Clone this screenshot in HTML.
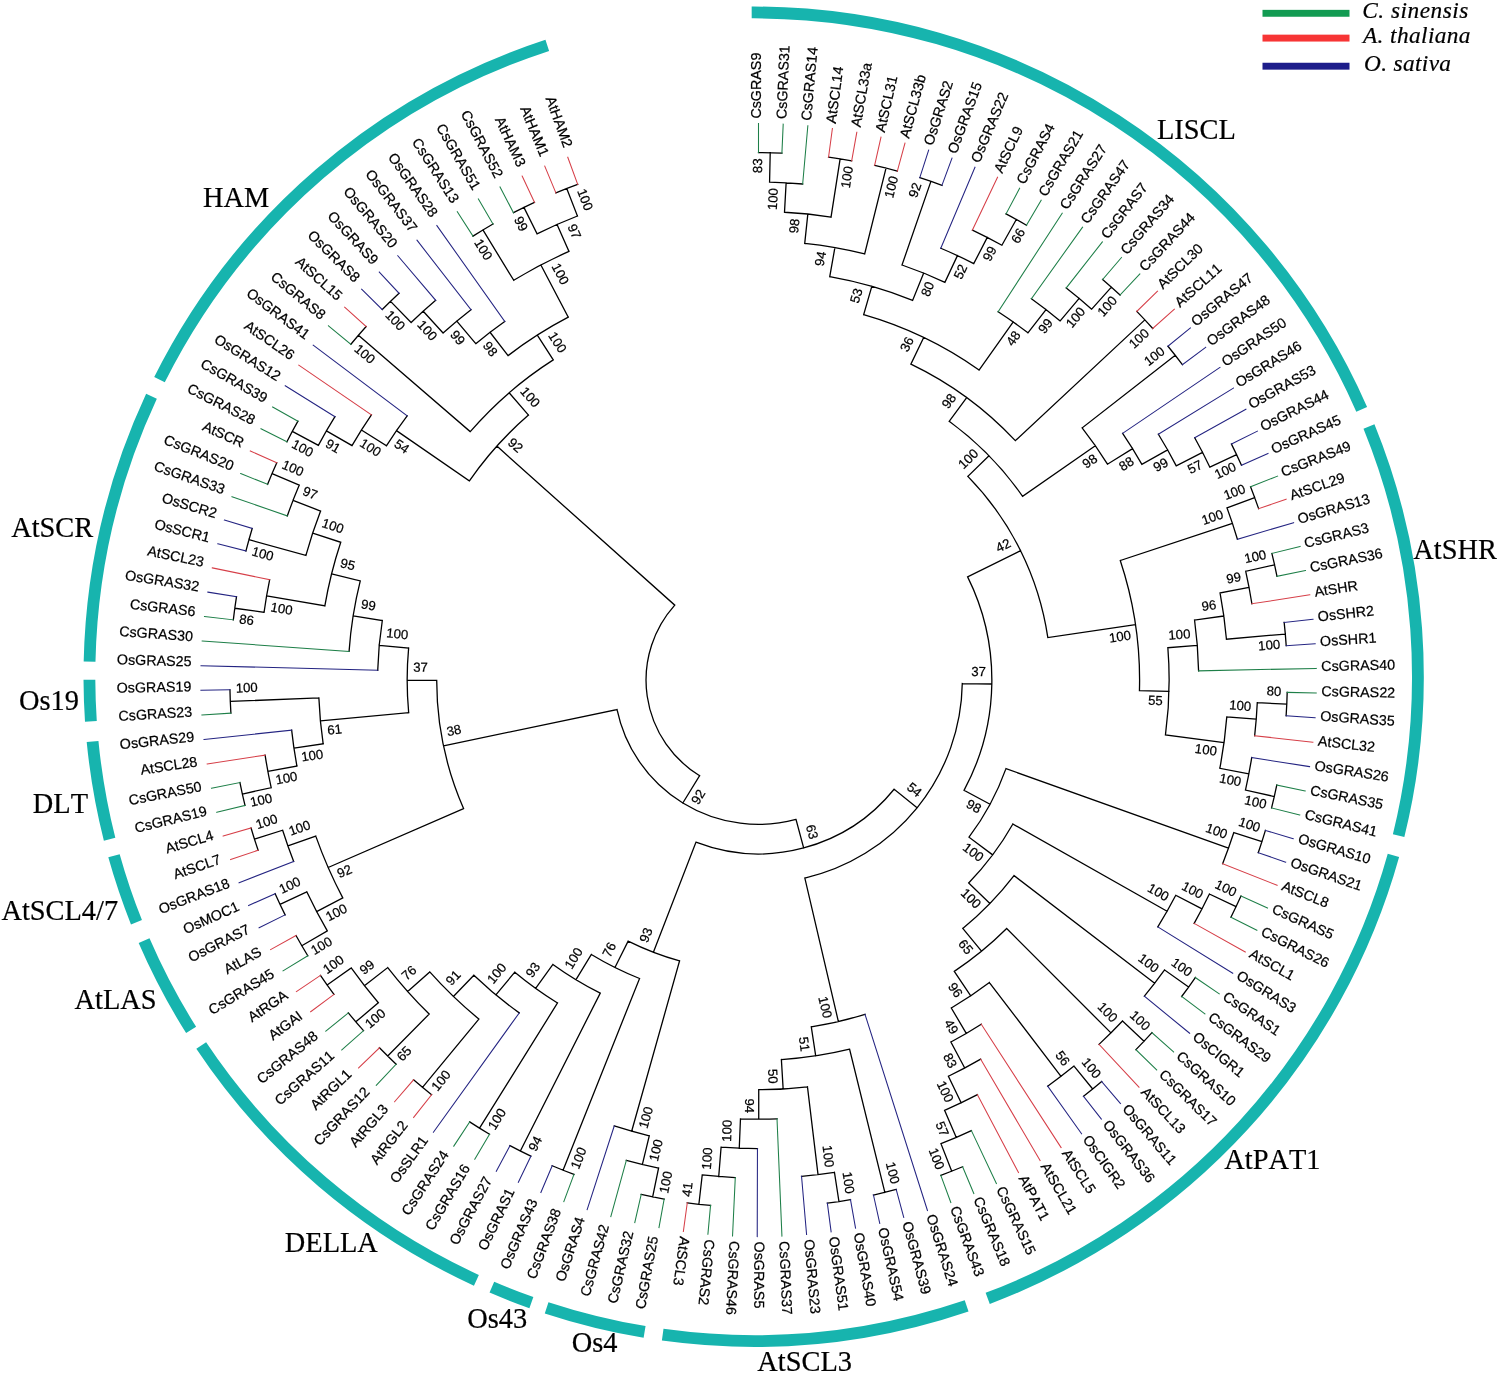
<!DOCTYPE html>
<html lang="en"><head><meta charset="utf-8"><title>GRAS phylogenetic tree</title>
<style>html,body{margin:0;padding:0;background:#fff}svg{display:block}text{font-kerning:none;stroke:#000;stroke-width:.22px}.lf{font-family:"Liberation Sans",Arial,sans-serif;font-size:14.3px;fill:#000}.bt{font-family:"Liberation Sans",Arial,sans-serif;font-size:13.2px;fill:#000}.cl{font-family:"Liberation Serif","Times New Roman",serif;font-size:28.4px;fill:#000}.lg{font-family:"Liberation Serif","Times New Roman",serif;font-style:italic;font-size:23.3px;fill:#000}</style></head><body>
<svg width="1500" height="1374" viewBox="0 0 1500 1374">
<rect width="1500" height="1374" fill="#fff"/>
<g fill="none" stroke="#17b4ae" stroke-width="11.8">
<path d="M751.68 12.45A664.25 664.25 0 0 1 1361.69 409.28"/>
<path d="M1368.97 426.47A664.25 664.25 0 0 1 1398.62 835.6"/>
<path d="M1393.43 855.33A664.25 664.25 0 0 1 987.69 1298.36"/>
<path d="M966.62 1305.88A664.25 664.25 0 0 1 662.7 1334.69"/>
<path d="M644.59 1331.94A664.25 664.25 0 0 1 546.62 1307.86"/>
<path d="M531.37 1302.66A664.25 664.25 0 0 1 491.87 1287.19"/>
<path d="M476.4 1280.32A664.25 664.25 0 0 1 201.22 1045.54"/>
<path d="M191.13 1029.98A664.25 664.25 0 0 1 144.08 940.61"/>
<path d="M136.47 922.3A664.25 664.25 0 0 1 113.99 855.78"/>
<path d="M109.61 839.31A664.25 664.25 0 0 1 92.57 741.52"/>
<path d="M90.9 721.3A664.25 664.25 0 0 1 89.41 679.71"/>
<path d="M89.57 661.51A664.25 664.25 0 0 1 151.49 396.29"/>
<path d="M159.5 379.69A664.25 664.25 0 0 1 547.28 45.32"/>
</g>
<g fill="none" stroke-width="1.3" stroke-linecap="square">
<path stroke="#000" d="M699.62 775.75A112.56 112.3 0 0 1 674.77 605.16M699.62 775.75L682.82 802.99M796.01 819.47A144.61 144.28 0 0 1 617.05 709.62M796.01 819.47L803.65 847.95M894.1 789.27A174.16 173.76 0 0 1 695.92 842.22M894.1 789.27L917.08 807.79M962.28 683.53A203.71 203.24 0 0 1 804.84 878.03M962.28 683.53L991.82 684.02M967.64 576.85A233.26 232.72 0 0 1 964.03 790.33M967.64 576.85L1020.6 550.69M967.84 476.39A292.35 291.68 0 0 1 1047.83 637.59M967.84 476.39L988.99 455.8M949.19 421.29A321.9 321.16 0 0 1 1022.6 496.34M949.19 421.29L966.69 397.53M910.9 364.09A351.45 350.64 0 0 1 1015.34 440.65M910.9 364.09L923.7 337.53M863.66 314.72A380.99 380.12 0 0 1 979.05 370.08M863.66 314.72L871.81 286.38M829.75 276.7A410.54 409.6 0 0 1 912.61 300.41M829.75 276.7L834.88 247.67M804.73 243.44A440.09 439.08 0 0 1 864.66 253.96M804.73 243.44L807.82 214.12M784.5 212.25A469.64 468.56 0 0 1 831.02 217.14M784.5 212.25L786.13 182.82M769.57 182.18A499.19 498.04 0 0 1 802.67 184M769.57 182.18L770.21 152.71M758.51 152.58A528.73 527.52 0 0 1 781.91 153.09M831.02 217.14L840.13 158.89M828.55 157.22A528.73 527.52 0 0 1 851.68 160.82M864.66 253.96L886.02 168.13M874.63 165.44A528.73 527.52 0 0 1 897.35 171.07M912.61 300.41L923.7 273.09M902.02 264.99A440.09 439.08 0 0 1 944.91 282.31M902.02 264.99L930.91 181.38M919.8 177.7A528.73 527.52 0 0 1 941.94 185.31M944.91 282.31L957.42 255.6M940.79 248.23A469.64 468.56 0 0 1 973.75 263.6M973.75 263.6L987.29 237.4M972.43 230.07A499.19 498.04 0 0 1 1001.9 245.22M1001.9 245.22L1016.3 219.48M1006.02 213.9A528.73 527.52 0 0 1 1026.46 225.28M979.05 370.08L1013.25 321.99M998.13 311.75A440.09 439.08 0 0 1 1027.93 332.84M1027.93 332.84L1046.01 309.53M1031.4 298.7A469.64 468.56 0 0 1 1060.18 320.91M1060.18 320.91L1079.16 298.32M1066.27 287.91A499.19 498.04 0 0 1 1091.69 309.15M1091.69 309.15L1111.4 287.19M1102.6 279.49A528.73 527.52 0 0 1 1120.04 295.08M1015.34 440.65L1144.85 319.87M1136.77 311.42A528.73 527.52 0 0 1 1152.75 328.49M1022.6 496.34L1095.3 445.74M1082.13 427.95A410.54 409.6 0 0 1 1107.48 464.2M1082.13 427.95L1175.28 355.36M1167.97 346.24A528.73 527.52 0 0 1 1182.38 364.65M1107.48 464.2L1132.59 448.66M1122.64 433.37A440.09 439.08 0 0 1 1141.89 464.35M1141.89 464.35L1167.63 449.86M1158.38 434.22A469.64 468.56 0 0 1 1176.26 465.84M1176.26 465.84L1202.54 452.36M1194.71 437.78A499.19 498.04 0 0 1 1209.87 467.2M1209.87 467.2L1236.59 454.59M1231.47 444.09A528.73 527.52 0 0 1 1241.47 465.21M1047.83 637.59L1135.53 624.71M1120.26 560.55A380.99 380.12 0 0 1 1139.45 690.53M1120.26 560.55L1232.46 523.47M1226.98 507.86A499.19 498.04 0 0 1 1237.41 539.25M1226.98 507.86L1254.71 497.66M1250.54 486.75A528.73 527.52 0 0 1 1258.63 508.66M1139.45 690.53L1168.99 691.33M1167.86 647.72A410.54 409.6 0 0 1 1165.46 734.82M1167.86 647.72L1197.31 645.39M1194.55 620.02A440.09 439.08 0 0 1 1198.59 670.88M1194.55 620.02L1223.82 615.99M1220.04 592.96A469.64 468.56 0 0 1 1226.44 639.19M1220.04 592.96L1249.08 587.47M1245.72 571.27A499.19 498.04 0 0 1 1251.89 603.77M1245.72 571.27L1274.56 564.83M1271.87 553.46A528.73 527.52 0 0 1 1276.99 576.26M1226.44 639.19L1285.31 634.04M1284.16 622.41A528.73 527.52 0 0 1 1286.21 645.68M1165.46 734.82L1224.03 742.7M1226.79 716.91A469.64 468.56 0 0 1 1219.84 768.29M1226.79 716.91L1256.24 719.22M1257.27 702.71A499.19 498.04 0 0 1 1254.67 735.69M1257.27 702.71L1286.79 704.05M1287.19 692.38A528.73 527.52 0 0 1 1286.13 715.71M1219.84 768.29L1248.86 773.84M1251.71 757.55A499.19 498.04 0 0 1 1245.47 790.03M1245.47 790.03L1274.29 796.54M1276.75 785.12A528.73 527.52 0 0 1 1271.58 807.9M964.03 790.33L990.06 804.29M1005.98 768.61A262.8 262.2 0 0 1 969 837.21M1005.98 768.61L1228.48 848.23M1233.82 832.57A499.19 498.04 0 0 1 1222.63 863.7M1233.82 832.57L1261.95 841.59M1265.41 830.43A528.73 527.52 0 0 1 1258.24 852.67M969 837.21L992.66 854.87M1012.89 824A292.35 291.68 0 0 1 968.68 882.95M1012.89 824L1167.1 911.27M1175.77 895.31A469.64 468.56 0 0 1 1157.82 926.88M1175.77 895.31L1202.02 908.85M1209.39 894.03A499.19 498.04 0 0 1 1194.16 923.41M1209.39 894.03L1236.07 906.69M1240.98 896.09A528.73 527.52 0 0 1 1230.93 917.18M968.68 882.95L989.91 903.45M1014.01 875.57A321.9 321.16 0 0 1 962.77 928.39M1014.01 875.57L1154.68 983.22M1164.55 969.93A499.19 498.04 0 0 1 1144.37 996.18M1164.55 969.93L1188.58 987.09M1195.29 977.52A528.73 527.52 0 0 1 1181.66 996.51M962.77 928.39L981.52 951.18M1006.66 928.48A351.45 350.64 0 0 1 954.29 971.35M1006.66 928.48L1110.94 1032.9M1122.49 1021.03A499.19 498.04 0 0 1 1099.01 1044.38M1122.49 1021.03L1144.03 1041.21M1151.95 1032.61A528.73 527.52 0 0 1 1135.92 1049.64M954.29 971.35L970.74 995.84M989.4 982.53A380.99 380.12 0 0 1 951.32 1008M989.4 982.53L1061 1076.36M1074.02 1066.12A499.19 498.04 0 0 1 1047.64 1086.16M1074.02 1066.12L1092.69 1088.97M1101.68 1081.49A528.73 527.52 0 0 1 1083.54 1096.25M951.32 1008L966.27 1033.43M981.26 1024.22A410.54 409.6 0 0 1 950.89 1041.99M950.89 1041.99L964.73 1068.04M980.69 1059.17A440.09 439.08 0 0 1 948.41 1076.24M948.41 1076.24L961.15 1102.84M977.42 1094.69A469.64 468.56 0 0 1 944.59 1110.35M944.59 1110.35L956.29 1137.42M971.4 1130.62A499.19 498.04 0 0 1 940.96 1143.72M940.96 1143.72L951.75 1171.16M962.6 1166.77A528.73 527.52 0 0 1 940.81 1175.31M804.84 878.03L838.38 1021.59M864.99 1014.29A351.45 350.64 0 0 1 811.28 1026.78M811.28 1026.78L815.71 1055.92M849.58 1049.22A380.99 380.12 0 0 1 781.38 1059.54M849.58 1049.22L884.85 1192.36M896.19 1189.45A528.73 527.52 0 0 1 873.46 1195.02M781.38 1059.54L783.15 1088.97M807.47 1086.79A410.54 409.6 0 0 1 758.73 1089.7M807.47 1086.79L818.03 1174.6M834.45 1172.36A499.19 498.04 0 0 1 801.54 1176.29M834.45 1172.36L838.94 1201.49M850.49 1199.59A528.73 527.52 0 0 1 827.35 1203.14M758.73 1089.7L758.74 1119.18M777.01 1118.8A440.09 439.08 0 0 1 740.47 1118.81M740.47 1118.81L739.26 1148.26M757.45 1148.66A469.64 468.56 0 0 1 721.09 1147.16M721.09 1147.16L718.73 1176.55M735.28 1177.6A499.19 498.04 0 0 1 702.23 1174.95M702.23 1174.95L698.89 1204.25M710.54 1205.44A528.73 527.52 0 0 1 687.28 1202.8M695.92 842.22L653.39 952.24M679.58 960.92A292.35 291.68 0 0 1 628.13 941.12M679.58 960.92L631.66 1131.22M649.27 1135.79A469.64 468.56 0 0 1 614.24 1125.97M649.27 1135.79L642.39 1164.46M658.58 1168.04A499.19 498.04 0 0 1 626.34 1160.34M658.58 1168.04L652.66 1196.92M664.15 1199.14A528.73 527.52 0 0 1 641.22 1194.46M628.13 941.12L614.95 967.5M639.54 978.48A321.9 321.16 0 0 1 591.36 954.51M639.54 978.48L563.04 1170.21M573.96 1174.41A528.73 527.52 0 0 1 552.21 1165.77M591.36 954.51L576.01 979.7M600.24 993.12A351.45 350.64 0 0 1 552.91 964.41M600.24 993.12L520.35 1151.03M530.86 1156.18A528.73 527.52 0 0 1 509.96 1145.65M552.91 964.41L535.62 988.32M557.51 1002.96A380.99 380.12 0 0 1 514.79 972.2M557.51 1002.96L479.53 1128.16M489.55 1134.21A528.73 527.52 0 0 1 469.66 1121.88M514.79 972.2L495.88 994.85M519.25 1012.88A410.54 409.6 0 0 1 473.88 975.19M473.88 975.19L453.39 996.43M478.85 1019.06A440.09 439.08 0 0 1 429.76 971.9M478.85 1019.06L422.5 1087.33M431.62 1094.65A528.73 527.52 0 0 1 413.55 1079.8M429.76 971.9L407.68 991.5M429.17 1014.05A469.64 468.56 0 0 1 387.74 967.57M429.17 1014.05L387.72 1056.07M396.15 1064.17A528.73 527.52 0 0 1 379.47 1047.79M387.74 967.57L364.4 985.66M378.35 1002.77A499.19 498.04 0 0 1 351.23 967.95M378.35 1002.77L355.84 1021.87M363.52 1030.68A528.73 527.52 0 0 1 348.35 1012.89M351.23 967.95L327.12 984.98M333.99 994.44A528.73 527.52 0 0 1 320.46 975.38M617.05 709.62L443.51 745.81M463.56 808.53A321.9 321.16 0 0 1 436.7 680.34M463.56 808.53L328.15 867.48M342.77 897.87A469.64 468.56 0 0 1 315.76 836.11M342.77 897.87L316.6 911.57M327.31 930.87A499.19 498.04 0 0 1 306.77 891.82M327.31 930.87L301.78 945.71M307.79 955.74A528.73 527.52 0 0 1 296 935.55M306.77 891.82L280.02 904.35M285.12 914.87A528.73 527.52 0 0 1 275.16 893.73M315.76 836.11L287.9 845.93M293.68 861.43A499.19 498.04 0 0 1 282.64 830.24M282.64 830.24L254.46 839.13M258.12 850.23A528.73 527.52 0 0 1 251.06 827.95M436.7 680.34L407.15 680.36M408.68 712.7A351.45 350.64 0 0 1 408.63 648.01M408.68 712.7L320.42 720.92M323.17 743.85A440.09 439.08 0 0 1 318.87 697.89M323.17 743.85L293.94 748.13M296.93 766.04A469.64 468.56 0 0 1 291.65 730.12M296.93 766.04L267.88 771.44M271.19 787.65A499.19 498.04 0 0 1 265.11 755.13M271.19 787.65L242.34 794.02M245 805.39A528.73 527.52 0 0 1 239.94 782.58M318.87 697.89L230.3 701.47M230.9 713.13A528.73 527.52 0 0 1 229.96 689.79M408.63 648.01L379.2 645.31M377.73 670.25A380.99 380.12 0 0 1 382.31 620.52M382.31 620.52L353.13 615.9M349.07 651.37A410.54 409.6 0 0 1 360.27 580.92M360.27 580.92L331.61 573.78M324.84 605.89A440.09 439.08 0 0 1 340.75 542.27M324.84 605.89L266.6 595.92M264.07 612.27A499.19 498.04 0 0 1 269.67 579.67M264.07 612.27L234.79 608.26M233.33 619.84A528.73 527.52 0 0 1 236.52 596.7M340.75 542.27L312.7 533.02M305.91 555.36A469.64 468.56 0 0 1 320.59 511.05M305.91 555.36L248.95 539.66M245.96 550.95A528.73 527.52 0 0 1 252.19 528.44M320.59 511.05L293.04 500.41M287.31 515.94A499.19 498.04 0 0 1 299.27 485.09M299.27 485.09L272.08 473.54M267.62 484.34A528.73 527.52 0 0 1 276.79 462.85M674.77 605.16L496.87 446.1M469.41 480.85A351.45 350.64 0 0 1 528.49 415.07M469.41 480.85L396.47 430.59M386.4 445.8A440.09 439.08 0 0 1 407.16 415.81M386.4 445.8L361.41 430.07M352 445.61A469.64 468.56 0 0 1 371.42 414.91M352 445.61L326.42 430.86M318.36 445.32A499.19 498.04 0 0 1 334.95 416.68M318.36 445.32L292.3 431.42M286.9 441.78A528.73 527.52 0 0 1 297.94 421.18M528.49 415.07L509.14 392.79M470.25 431.66A380.99 380.12 0 0 1 553.25 359.92M470.25 431.66L358.43 335.32M350.88 344.24A528.73 527.52 0 0 1 366.18 326.56M553.25 359.92L537.32 335.09M508.05 355.62A410.54 409.6 0 0 1 568.27 317.18M508.05 355.62L490.02 332.27M475.78 343.69A440.09 439.08 0 0 1 504.72 321.45M475.78 343.69L456.79 321.11M443.08 333.04A469.64 468.56 0 0 1 470.96 309.71M443.08 333.04L423.23 311.2M411.13 322.52A499.19 498.04 0 0 1 435.69 300.3M411.13 322.52L390.57 301.35M382.25 309.58A528.73 527.52 0 0 1 399.06 293.32M568.27 317.18L540.88 264.94M513.73 280.27A469.64 468.56 0 0 1 568.98 251.43M513.73 280.27L482.92 229.96M473 236.16A528.73 527.52 0 0 1 492.98 223.98M568.98 251.43L557.05 224.46M537.03 233.81A499.19 498.04 0 0 1 577.46 216.01M537.03 233.81L523.91 207.39M513.48 212.69A528.73 527.52 0 0 1 534.46 202.33M577.46 216.01L566.74 188.54M555.88 192.89A528.73 527.52 0 0 1 577.7 184.42"/>
<path stroke="#1e7f48" stroke-width="1.05" d="M758.51 152.58L758.5 123.6M781.91 153.09L783.2 124.14M802.67 184L807.84 125.77M1006.02 213.9L1019.61 188.29M1026.46 225.28L1041.17 200.3M998.13 311.75L1062.19 213.25M1031.4 298.7L1082.6 227.12M1066.27 287.91L1102.39 241.87M1102.6 279.49L1121.49 257.49M1120.04 295.08L1139.89 273.93M1250.54 486.75L1277.56 476.12M1271.87 553.46L1300.07 546.51M1276.99 576.26L1305.47 570.55M1198.59 670.88L1316.26 668.41M1287.19 692.38L1316.23 693.05M1276.75 785.12L1305.21 790.89M1271.58 807.9L1299.76 814.92M1240.98 896.09L1267.48 907.96M1230.93 917.18L1256.87 930.21M1195.29 977.52L1219.28 993.86M1181.66 996.51L1204.9 1013.9M1151.95 1032.61L1173.56 1051.97M1135.92 1049.64L1156.65 1069.94M971.4 1130.62L996.38 1183.5M962.6 1166.77L973.81 1193.51M940.81 1175.31L950.82 1202.51M777.01 1118.8L781.93 1236.11M735.28 1177.6L732.54 1235.99M710.54 1205.44L707.9 1234.3M664.15 1199.14L658.97 1227.65M641.22 1194.46L634.77 1222.71M626.34 1160.34L610.81 1216.71M573.96 1174.41L563.82 1201.57M489.55 1134.21L474.76 1159.16M469.66 1121.88L453.79 1146.15M396.15 1064.17L376.24 1085.27M363.52 1030.68L341.82 1049.94M348.35 1012.89L325.82 1031.17M307.79 955.74L283.02 970.88M245 805.39L216.78 812.27M239.94 782.58L211.45 788.21M230.9 713.13L201.91 714.95M349.07 651.37L202.19 641.07M233.33 619.84L204.47 616.53M287.31 515.94L231.99 496.67M267.62 484.34L240.65 473.59M286.9 441.78L260.99 428.69M297.94 421.18L272.63 406.95M350.88 344.24L328.48 325.79M473 236.16L457.31 211.77M492.98 223.98L478.39 198.92M513.48 212.69L500.01 187.02"/>
<path stroke="#d63f48" stroke-width="1.05" d="M828.55 157.22L832.39 128.49M851.68 160.82L856.79 132.29M874.63 165.44L881 137.17M897.35 171.07L904.98 143.1M972.43 230.07L997.53 177.24M1136.77 311.42L1157.54 291.17M1152.75 328.49L1174.41 309.17M1258.63 508.66L1286.1 499.24M1251.89 603.77L1309.79 594.82M1254.67 735.69L1312.89 742.21M1222.63 863.7L1277.09 885.25M1194.16 923.41L1245.29 951.97M1099.01 1044.38L1138.96 1087.14M981.26 1024.22L1061.12 1147.64M980.69 1059.17L1040.08 1160.54M977.42 1094.69L1018.48 1172.5M687.28 1202.8L683.36 1231.51M431.62 1094.65L413.66 1117.43M413.55 1079.8L394.59 1101.76M379.47 1047.79L358.64 1067.99M333.99 994.44L310.66 1011.71M320.46 975.38L296.39 991.6M296 935.55L270.58 949.59M258.12 850.23L230.62 859.57M251.06 827.95L223.18 836.08M265.11 755.13L207.19 763.94M269.67 579.67L212.28 567.88M276.79 462.85L250.32 450.91M371.42 414.91L298.75 365.14M366.18 326.56L344.62 307.14M534.46 202.33L522.14 176.08M555.88 192.89L544.74 166.13M577.7 184.42L567.76 157.19"/>
<path stroke="#242482" stroke-width="1.05" d="M919.8 177.7L928.66 150.1M941.94 185.31L952.01 158.13M940.79 248.23L974.98 167.18M1167.97 346.24L1190.46 327.9M1182.38 364.65L1205.66 347.32M1122.64 433.37L1219.99 367.39M1158.38 434.22L1233.41 388.08M1194.71 437.78L1245.91 409.33M1231.47 444.09L1257.44 431.12M1241.47 465.21L1268 453.4M1237.41 539.25L1293.61 522.72M1284.16 622.41L1313.03 619.24M1286.21 645.68L1315.19 643.79M1286.13 715.71L1315.11 717.67M1251.71 757.55L1309.59 766.64M1265.41 830.43L1293.25 838.69M1258.24 852.67L1285.69 862.15M1157.82 926.88L1232.75 973.2M1144.37 996.18L1189.65 1033.28M1101.68 1081.49L1120.53 1103.54M1083.54 1096.25L1101.39 1119.11M1047.64 1086.16L1081.57 1133.82M864.99 1014.29L927.45 1210.49M896.19 1189.45L903.75 1217.43M873.46 1195.02L879.76 1223.31M850.49 1199.59L855.54 1228.13M827.35 1203.14L831.13 1231.88M801.54 1176.29L806.58 1234.54M757.45 1148.66L757.23 1236.6M614.24 1125.97L587.15 1209.66M552.21 1165.77L540.87 1192.45M530.86 1156.18L518.35 1182.33M509.96 1145.65L496.3 1171.23M519.25 1012.88L433.4 1132.23M285.12 914.87L259.1 927.77M275.16 893.73L248.6 905.46M293.68 861.43L239.1 882.72M291.65 730.12L204.01 739.5M229.96 689.79L200.91 690.33M377.73 670.25L201.01 665.68M236.52 596.7L207.83 592.12M245.96 550.95L217.79 543.86M252.19 528.44L224.37 520.11M334.95 416.68L285.23 385.76M407.16 415.81L313.18 345.14M382.25 309.58L361.58 289.22M399.06 293.32L379.31 272.07M435.69 300.3L397.79 255.72M470.96 309.71L416.97 240.19M504.72 321.45L436.83 225.54"/>
</g>
<g class="lf">
<text transform="translate(758.5 118.6) rotate(-90.01)" y="2.8">CsGRAS9</text>
<text transform="translate(783.42 119.15) rotate(-87.47)" y="2.8">CsGRAS31</text>
<text transform="translate(808.28 120.79) rotate(-84.94)" y="2.8">CsGRAS14</text>
<text transform="translate(833.05 123.54) rotate(-82.4)" y="2.8">AtSCL14</text>
<text transform="translate(857.68 127.37) rotate(-79.86)" y="2.8">AtSCL33a</text>
<text transform="translate(882.1 132.29) rotate(-77.32)" y="2.8">AtSCL31</text>
<text transform="translate(906.29 138.28) rotate(-74.79)" y="2.8">AtSCL33b</text>
<text transform="translate(930.19 145.33) rotate(-72.25)" y="2.8">OsGRAS2</text>
<text transform="translate(953.75 153.44) rotate(-69.71)" y="2.8">OsGRAS15</text>
<text transform="translate(976.93 162.57) rotate(-67.17)" y="2.8">OsGRAS22</text>
<text transform="translate(999.68 172.72) rotate(-64.64)" y="2.8">AtSCL9</text>
<text transform="translate(1021.95 183.87) rotate(-62.1)" y="2.8">CsGRAS4</text>
<text transform="translate(1043.71 195.99) rotate(-59.56)" y="2.8">CsGRAS21</text>
<text transform="translate(1064.91 209.05) rotate(-57.02)" y="2.8">CsGRAS27</text>
<text transform="translate(1085.52 223.05) rotate(-54.49)" y="2.8">CsGRAS47</text>
<text transform="translate(1105.48 237.93) rotate(-51.95)" y="2.8">CsGRAS7</text>
<text transform="translate(1124.76 253.69) rotate(-49.41)" y="2.8">CsGRAS34</text>
<text transform="translate(1143.32 270.28) rotate(-46.88)" y="2.8">CsGRAS44</text>
<text transform="translate(1161.12 287.67) rotate(-44.34)" y="2.8">AtSCL30</text>
<text transform="translate(1178.14 305.84) rotate(-41.8)" y="2.8">AtSCL11</text>
<text transform="translate(1194.34 324.73) rotate(-39.26)" y="2.8">OsGRAS47</text>
<text transform="translate(1209.68 344.33) rotate(-36.73)" y="2.8">OsGRAS48</text>
<text transform="translate(1224.14 364.58) rotate(-34.19)" y="2.8">OsGRAS50</text>
<text transform="translate(1237.68 385.45) rotate(-31.65)" y="2.8">OsGRAS46</text>
<text transform="translate(1250.28 406.9) rotate(-29.11)" y="2.8">OsGRAS53</text>
<text transform="translate(1261.92 428.89) rotate(-26.58)" y="2.8">OsGRAS44</text>
<text transform="translate(1272.58 451.36) rotate(-24.04)" y="2.8">OsGRAS45</text>
<text transform="translate(1282.22 474.29) rotate(-21.5)" y="2.8">CsGRAS49</text>
<text transform="translate(1290.84 497.62) rotate(-18.96)" y="2.8">AtSCL29</text>
<text transform="translate(1298.42 521.31) rotate(-16.43)" y="2.8">OsGRAS13</text>
<text transform="translate(1304.93 545.31) rotate(-13.89)" y="2.8">CsGRAS3</text>
<text transform="translate(1310.38 569.57) rotate(-11.35)" y="2.8">CsGRAS36</text>
<text transform="translate(1314.74 594.05) rotate(-8.82)" y="2.8">AtSHR</text>
<text transform="translate(1318.02 618.7) rotate(-6.28)" y="2.8">OsSHR2</text>
<text transform="translate(1320.19 643.47) rotate(-3.74)" y="2.8">OsSHR1</text>
<text transform="translate(1321.27 668.31) rotate(-1.2)" y="2.8">CsGRAS40</text>
<text transform="translate(1321.24 693.17) rotate(1.33)" y="2.8">CsGRAS22</text>
<text transform="translate(1320.11 718.01) rotate(3.87)" y="2.8">OsGRAS35</text>
<text transform="translate(1317.87 742.77) rotate(6.41)" y="2.8">AtSCL32</text>
<text transform="translate(1314.55 767.41) rotate(8.95)" y="2.8">OsGRAS26</text>
<text transform="translate(1310.13 791.88) rotate(11.48)" y="2.8">CsGRAS35</text>
<text transform="translate(1304.63 816.13) rotate(14.02)" y="2.8">CsGRAS41</text>
<text transform="translate(1298.05 840.12) rotate(16.56)" y="2.8">OsGRAS10</text>
<text transform="translate(1290.42 863.79) rotate(19.1)" y="2.8">OsGRAS21</text>
<text transform="translate(1281.75 887.1) rotate(21.63)" y="2.8">AtSCL8</text>
<text transform="translate(1272.05 910) rotate(24.17)" y="2.8">CsGRAS5</text>
<text transform="translate(1261.35 932.46) rotate(26.71)" y="2.8">CsGRAS26</text>
<text transform="translate(1249.66 954.41) rotate(29.24)" y="2.8">AtSCL1</text>
<text transform="translate(1237.01 975.83) rotate(31.78)" y="2.8">OsGRAS3</text>
<text transform="translate(1223.41 996.68) rotate(34.32)" y="2.8">CsGRAS1</text>
<text transform="translate(1208.91 1016.89) rotate(36.86)" y="2.8">CsGRAS29</text>
<text transform="translate(1193.53 1036.45) rotate(39.39)" y="2.8">OsCIGR1</text>
<text transform="translate(1177.29 1055.32) rotate(41.93)" y="2.8">CsGRAS10</text>
<text transform="translate(1160.23 1073.44) rotate(44.47)" y="2.8">CsGRAS17</text>
<text transform="translate(1142.38 1090.79) rotate(47.01)" y="2.8">AtSCL13</text>
<text transform="translate(1123.78 1107.34) rotate(49.54)" y="2.8">OsGRAS11</text>
<text transform="translate(1104.47 1123.05) rotate(52.08)" y="2.8">OsGRAS36</text>
<text transform="translate(1084.47 1137.9) rotate(54.62)" y="2.8">OsCIGR2</text>
<text transform="translate(1063.84 1151.84) rotate(57.16)" y="2.8">AtSCL5</text>
<text transform="translate(1042.61 1164.86) rotate(59.69)" y="2.8">AtSCL21</text>
<text transform="translate(1020.82 1176.93) rotate(62.23)" y="2.8">AtPAT1</text>
<text transform="translate(998.52 1188.02) rotate(64.77)" y="2.8">CsGRAS15</text>
<text transform="translate(975.74 1198.12) rotate(67.3)" y="2.8">CsGRAS18</text>
<text transform="translate(952.55 1207.21) rotate(69.84)" y="2.8">CsGRAS43</text>
<text transform="translate(928.97 1215.25) rotate(72.38)" y="2.8">OsGRAS24</text>
<text transform="translate(905.05 1222.25) rotate(74.92)" y="2.8">OsGRAS39</text>
<text transform="translate(880.85 1228.19) rotate(77.45)" y="2.8">OsGRAS54</text>
<text transform="translate(856.41 1233.05) rotate(79.99)" y="2.8">OsGRAS40</text>
<text transform="translate(831.78 1236.83) rotate(82.53)" y="2.8">OsGRAS51</text>
<text transform="translate(807.01 1239.52) rotate(85.07)" y="2.8">OsGRAS23</text>
<text transform="translate(782.14 1241.11) rotate(87.6)" y="2.8">CsGRAS37</text>
<text transform="translate(757.22 1241.6) rotate(90.14)" y="2.8">OsGRAS5</text>
<text transform="translate(732.31 1240.99) rotate(92.68)" y="2.8">CsGRAS46</text>
<text transform="translate(707.45 1239.28) rotate(95.22)" y="2.8">CsGRAS2</text>
<text transform="translate(682.68 1236.47) rotate(97.75)" y="2.8">AtSCL3</text>
<text transform="translate(657.27 1237) rotate(280.29)" y="0.85" text-anchor="end">CsGRAS25</text>
<text transform="translate(632.65 1231.98) rotate(282.83)" y="0.85" text-anchor="end">CsGRAS32</text>
<text transform="translate(608.29 1225.87) rotate(285.36)" y="0.85" text-anchor="end">CsGRAS42</text>
<text transform="translate(584.22 1218.7) rotate(287.9)" y="0.85" text-anchor="end">OsGRAS4</text>
<text transform="translate(560.49 1210.47) rotate(290.44)" y="0.85" text-anchor="end">CsGRAS38</text>
<text transform="translate(537.15 1201.2) rotate(292.98)" y="0.85" text-anchor="end">OsGRAS43</text>
<text transform="translate(514.25 1190.9) rotate(295.51)" y="0.85" text-anchor="end">OsGRAS1</text>
<text transform="translate(491.82 1179.61) rotate(298.05)" y="0.85" text-anchor="end">OsGRAS27</text>
<text transform="translate(469.92 1167.34) rotate(300.59)" y="0.85" text-anchor="end">CsGRAS16</text>
<text transform="translate(448.58 1154.11) rotate(303.13)" y="0.85" text-anchor="end">CsGRAS24</text>
<text transform="translate(427.85 1139.95) rotate(305.66)" y="0.85" text-anchor="end">OsSLR1</text>
<text transform="translate(407.77 1124.89) rotate(308.2)" y="0.85" text-anchor="end">AtRGL2</text>
<text transform="translate(388.38 1108.96) rotate(310.74)" y="0.85" text-anchor="end">AtRGL3</text>
<text transform="translate(369.71 1092.19) rotate(313.28)" y="0.85" text-anchor="end">CsGRAS12</text>
<text transform="translate(351.81 1074.61) rotate(315.81)" y="0.85" text-anchor="end">AtRGL1</text>
<text transform="translate(334.7 1056.25) rotate(318.35)" y="0.85" text-anchor="end">CsGRAS11</text>
<text transform="translate(318.43 1037.16) rotate(320.89)" y="0.85" text-anchor="end">CsGRAS48</text>
<text transform="translate(303.02 1017.37) rotate(323.42)" y="0.85" text-anchor="end">AtGAI</text>
<text transform="translate(288.5 996.92) rotate(325.96)" y="0.85" text-anchor="end">AtRGA</text>
<text transform="translate(274.9 975.84) rotate(328.5)" y="0.85" text-anchor="end">CsGRAS45</text>
<text transform="translate(262.25 954.19) rotate(331.04)" y="0.85" text-anchor="end">AtLAS</text>
<text transform="translate(250.58 932) rotate(333.57)" y="0.85" text-anchor="end">OsGRAS7</text>
<text transform="translate(239.9 909.31) rotate(336.11)" y="0.85" text-anchor="end">OsMOC1</text>
<text transform="translate(230.24 886.18) rotate(338.65)" y="0.85" text-anchor="end">OsGRAS18</text>
<text transform="translate(221.61 862.64) rotate(341.19)" y="0.85" text-anchor="end">AtSCL7</text>
<text transform="translate(214.04 838.74) rotate(343.72)" y="0.85" text-anchor="end">AtSCL4</text>
<text transform="translate(207.53 814.53) rotate(346.26)" y="0.85" text-anchor="end">CsGRAS19</text>
<text transform="translate(202.11 790.06) rotate(348.8)" y="0.85" text-anchor="end">CsGRAS50</text>
<text transform="translate(197.77 765.37) rotate(351.33)" y="0.85" text-anchor="end">AtSCL28</text>
<text transform="translate(194.54 740.52) rotate(353.87)" y="0.85" text-anchor="end">OsGRAS29</text>
<text transform="translate(192.41 715.54) rotate(356.41)" y="0.85" text-anchor="end">CsGRAS23</text>
<text transform="translate(191.39 690.5) rotate(358.95)" y="0.85" text-anchor="end">OsGRAS19</text>
<text transform="translate(191.49 665.44) rotate(361.48)" y="0.85" text-anchor="end">OsGRAS25</text>
<text transform="translate(192.7 640.4) rotate(364.02)" y="0.85" text-anchor="end">CsGRAS30</text>
<text transform="translate(195.01 615.45) rotate(366.56)" y="0.85" text-anchor="end">CsGRAS6</text>
<text transform="translate(198.43 590.62) rotate(369.1)" y="0.85" text-anchor="end">OsGRAS32</text>
<text transform="translate(202.95 565.96) rotate(371.63)" y="0.85" text-anchor="end">AtSCL23</text>
<text transform="translate(208.56 541.53) rotate(374.17)" y="0.85" text-anchor="end">OsSCR1</text>
<text transform="translate(215.25 517.38) rotate(376.71)" y="0.85" text-anchor="end">OsSCR2</text>
<text transform="translate(223 493.54) rotate(379.25)" y="0.85" text-anchor="end">CsGRAS33</text>
<text transform="translate(231.81 470.06) rotate(381.78)" y="0.85" text-anchor="end">CsGRAS20</text>
<text transform="translate(241.64 447) rotate(384.32)" y="0.85" text-anchor="end">AtSCR</text>
<text transform="translate(252.49 424.4) rotate(386.86)" y="0.85" text-anchor="end">CsGRAS28</text>
<text transform="translate(264.33 402.29) rotate(389.39)" y="0.85" text-anchor="end">CsGRAS39</text>
<text transform="translate(277.15 380.73) rotate(391.93)" y="0.85" text-anchor="end">OsGRAS12</text>
<text transform="translate(290.9 359.76) rotate(394.47)" y="0.85" text-anchor="end">AtSCL26</text>
<text transform="translate(305.57 339.42) rotate(397.01)" y="0.85" text-anchor="end">OsGRAS41</text>
<text transform="translate(321.13 319.74) rotate(399.54)" y="0.85" text-anchor="end">CsGRAS8</text>
<text transform="translate(337.55 300.77) rotate(402.08)" y="0.85" text-anchor="end">AtSCL15</text>
<text transform="translate(354.8 282.55) rotate(404.62)" y="0.85" text-anchor="end">OsGRAS8</text>
<text transform="translate(372.83 265.1) rotate(407.16)" y="0.85" text-anchor="end">OsGRAS9</text>
<text transform="translate(391.63 248.47) rotate(409.69)" y="0.85" text-anchor="end">OsGRAS20</text>
<text transform="translate(411.14 232.69) rotate(412.23)" y="0.85" text-anchor="end">OsGRAS37</text>
<text transform="translate(431.33 217.78) rotate(414.77)" y="0.85" text-anchor="end">OsGRAS28</text>
<text transform="translate(452.17 203.78) rotate(417.31)" y="0.85" text-anchor="end">CsGRAS13</text>
<text transform="translate(473.6 190.71) rotate(419.84)" y="0.85" text-anchor="end">CsGRAS51</text>
<text transform="translate(495.6 178.6) rotate(422.38)" y="0.85" text-anchor="end">CsGRAS52</text>
<text transform="translate(518.11 167.47) rotate(424.92)" y="0.85" text-anchor="end">AtHAM3</text>
<text transform="translate(541.09 157.35) rotate(427.45)" y="0.85" text-anchor="end">AtHAM1</text>
<text transform="translate(564.5 148.26) rotate(429.99)" y="0.85" text-anchor="end">AtHAM2</text>
</g>
<g class="bt">
<text transform="translate(685.98 797.88) rotate(301.6)" y="14.45">92</text>
<text transform="translate(802.1 842.15) rotate(75.01)" y="-7.8" text-anchor="end">63</text>
<text transform="translate(912.41 804.02) rotate(38.92)" y="-7.8" text-anchor="end">54</text>
<text transform="translate(985.81 683.92) rotate(0.97)" y="-7.8" text-anchor="end">37</text>
<text transform="translate(1015.21 553.35) rotate(-26.34)" y="-7.8" text-anchor="end">42</text>
<text transform="translate(984.68 459.99) rotate(-44.3)" y="-7.8" text-anchor="end">100</text>
<text transform="translate(963.13 402.36) rotate(-53.69)" y="-7.8" text-anchor="end">98</text>
<text transform="translate(921.1 342.93) rotate(-64.32)" y="-7.8" text-anchor="end">36</text>
<text transform="translate(870.15 292.15) rotate(-73.99)" y="-7.8" text-anchor="end">53</text>
<text transform="translate(833.83 253.57) rotate(-80.02)" y="-7.8" text-anchor="end">94</text>
<text transform="translate(807.19 220.09) rotate(-83.98)" y="-7.8" text-anchor="end">98</text>
<text transform="translate(785.8 188.81) rotate(-86.84)" y="-7.8" text-anchor="end">100</text>
<text transform="translate(770.08 158.71) rotate(-88.74)" y="-7.8" text-anchor="end">83</text>
<text transform="translate(839.21 164.82) rotate(-81.13)" y="14.05" text-anchor="end">100</text>
<text transform="translate(884.57 173.95) rotate(-76.05)" y="14.05" text-anchor="end">100</text>
<text transform="translate(921.44 278.65) rotate(-67.97)" y="14.05" text-anchor="end">80</text>
<text transform="translate(928.95 187.05) rotate(-70.98)" y="-7.8" text-anchor="end">92</text>
<text transform="translate(954.87 261.04) rotate(-64.95)" y="14.05" text-anchor="end">52</text>
<text transform="translate(984.54 242.73) rotate(-62.73)" y="14.05" text-anchor="end">99</text>
<text transform="translate(1013.37 224.72) rotate(-60.83)" y="14.05" text-anchor="end">66</text>
<text transform="translate(1009.77 326.88) rotate(-54.65)" y="14.05" text-anchor="end">48</text>
<text transform="translate(1042.33 314.27) rotate(-52.27)" y="14.05" text-anchor="end">99</text>
<text transform="translate(1075.29 302.92) rotate(-50.05)" y="14.05" text-anchor="end">100</text>
<text transform="translate(1107.39 291.66) rotate(-48.14)" y="14.05" text-anchor="end">100</text>
<text transform="translate(1140.46 323.96) rotate(-43.07)" y="14.05" text-anchor="end">100</text>
<text transform="translate(1090.37 449.17) rotate(-34.9)" y="14.05" text-anchor="end">98</text>
<text transform="translate(1170.54 359.06) rotate(-37.99)" y="-7.8" text-anchor="end">100</text>
<text transform="translate(1127.48 451.82) rotate(-31.81)" y="14.05" text-anchor="end">88</text>
<text transform="translate(1162.39 452.81) rotate(-29.43)" y="14.05" text-anchor="end">99</text>
<text transform="translate(1197.19 455.1) rotate(-27.21)" y="14.05" text-anchor="end">57</text>
<text transform="translate(1231.15 457.16) rotate(-25.31)" y="14.05" text-anchor="end">100</text>
<text transform="translate(1129.58 625.58) rotate(-8.38)" y="14.05" text-anchor="end">100</text>
<text transform="translate(1226.75 525.36) rotate(-18.33)" y="-7.8" text-anchor="end">100</text>
<text transform="translate(1249.06 499.73) rotate(-20.23)" y="-7.8" text-anchor="end">100</text>
<text transform="translate(1162.98 691.17) rotate(1.57)" y="14.05" text-anchor="end">55</text>
<text transform="translate(1191.32 645.87) rotate(-4.53)" y="-7.8" text-anchor="end">100</text>
<text transform="translate(1217.86 616.81) rotate(-7.86)" y="-7.8" text-anchor="end">96</text>
<text transform="translate(1243.17 588.59) rotate(-10.72)" y="-7.8" text-anchor="end">99</text>
<text transform="translate(1268.69 566.14) rotate(-12.62)" y="-7.8" text-anchor="end">100</text>
<text transform="translate(1279.32 634.56) rotate(-5.01)" y="14.05" text-anchor="end">100</text>
<text transform="translate(1218.07 741.89) rotate(7.68)" y="14.05" text-anchor="end">100</text>
<text transform="translate(1250.25 718.75) rotate(4.51)" y="-7.8" text-anchor="end">100</text>
<text transform="translate(1280.78 703.78) rotate(2.6)" y="-7.8" text-anchor="end">80</text>
<text transform="translate(1242.96 772.71) rotate(10.85)" y="14.05" text-anchor="end">100</text>
<text transform="translate(1268.43 795.21) rotate(12.75)" y="14.05" text-anchor="end">100</text>
<text transform="translate(984.76 801.45) rotate(28.27)" y="14.05" text-anchor="end">98</text>
<text transform="translate(1222.82 846.2) rotate(19.73)" y="-7.8" text-anchor="end">100</text>
<text transform="translate(1256.22 839.76) rotate(17.83)" y="-7.8" text-anchor="end">100</text>
<text transform="translate(987.84 851.28) rotate(36.81)" y="14.05" text-anchor="end">100</text>
<text transform="translate(1161.87 908.31) rotate(29.56)" y="-7.8" text-anchor="end">100</text>
<text transform="translate(1196.68 906.09) rotate(27.34)" y="-7.8" text-anchor="end">100</text>
<text transform="translate(1230.64 904.11) rotate(25.44)" y="-7.8" text-anchor="end">100</text>
<text transform="translate(985.59 899.27) rotate(44.06)" y="14.05" text-anchor="end">100</text>
<text transform="translate(1149.91 979.57) rotate(37.49)" y="-7.8" text-anchor="end">100</text>
<text transform="translate(1183.69 983.6) rotate(35.59)" y="-7.8" text-anchor="end">100</text>
<text transform="translate(977.7 946.54) rotate(50.63)" y="14.05" text-anchor="end">65</text>
<text transform="translate(1106.7 1028.65) rotate(45.1)" y="-7.8" text-anchor="end">100</text>
<text transform="translate(1139.65 1037.1) rotate(43.2)" y="-7.8" text-anchor="end">100</text>
<text transform="translate(967.4 990.86) rotate(56.16)" y="14.05" text-anchor="end">96</text>
<text transform="translate(1057.35 1071.58) rotate(52.71)" y="-7.8" text-anchor="end">56</text>
<text transform="translate(1088.89 1084.32) rotate(50.81)" y="-7.8" text-anchor="end">100</text>
<text transform="translate(963.22 1028.26) rotate(59.61)" y="14.05" text-anchor="end">49</text>
<text transform="translate(961.91 1062.74) rotate(62.07)" y="14.05" text-anchor="end">83</text>
<text transform="translate(958.56 1097.43) rotate(64.45)" y="14.05" text-anchor="end">100</text>
<text transform="translate(953.91 1131.91) rotate(66.67)" y="14.05" text-anchor="end">57</text>
<text transform="translate(949.56 1165.57) rotate(68.57)" y="14.05" text-anchor="end">100</text>
<text transform="translate(837.02 1015.74) rotate(76.88)" y="14.05" text-anchor="end">100</text>
<text transform="translate(814.81 1049.99) rotate(81.38)" y="14.05" text-anchor="end">51</text>
<text transform="translate(883.42 1186.53) rotate(76.19)" y="-7.8" text-anchor="end">100</text>
<text transform="translate(782.79 1082.98) rotate(86.57)" y="14.05" text-anchor="end">50</text>
<text transform="translate(817.31 1168.64) rotate(83.16)" y="-7.8" text-anchor="end">100</text>
<text transform="translate(838.03 1195.56) rotate(81.26)" y="-7.8" text-anchor="end">100</text>
<text transform="translate(758.74 1113.18) rotate(89.98)" y="14.05" text-anchor="end">94</text>
<text transform="translate(739.5 1142.27) rotate(272.36)" y="-8.6">100</text>
<text transform="translate(719.21 1170.57) rotate(274.58)" y="-8.6">100</text>
<text transform="translate(699.57 1198.28) rotate(276.48)" y="-8.6">41</text>
<text transform="translate(655.55 946.64) rotate(291.09)" y="-8.6">93</text>
<text transform="translate(633.29 1125.44) rotate(285.68)" y="14.45">100</text>
<text transform="translate(643.79 1158.62) rotate(283.46)" y="14.45">100</text>
<text transform="translate(653.86 1191.04) rotate(281.56)" y="14.45">100</text>
<text transform="translate(617.63 962.14) rotate(296.5)" y="-8.6">76</text>
<text transform="translate(565.26 1164.64) rotate(291.71)" y="14.45">100</text>
<text transform="translate(579.13 974.57) rotate(301.3)" y="-8.6">100</text>
<text transform="translate(523.06 1145.67) rotate(296.78)" y="14.45">94</text>
<text transform="translate(539.14 983.45) rotate(305.82)" y="-8.6">93</text>
<text transform="translate(482.71 1123.06) rotate(301.86)" y="14.45">100</text>
<text transform="translate(499.73 990.24) rotate(309.79)" y="-8.6">100</text>
<text transform="translate(457.56 992.11) rotate(313.91)" y="-8.6">91</text>
<text transform="translate(426.33 1082.7) rotate(309.47)" y="14.45">100</text>
<text transform="translate(412.17 987.51) rotate(318.35)" y="-8.6">76</text>
<text transform="translate(391.94 1051.8) rotate(314.54)" y="14.45">65</text>
<text transform="translate(369.15 981.98) rotate(322.16)" y="-8.6">99</text>
<text transform="translate(360.42 1017.98) rotate(319.62)" y="14.45">100</text>
<text transform="translate(332.03 981.52) rotate(324.69)" y="-8.6">100</text>
<text transform="translate(449.4 744.59) rotate(348.19)" y="-8.6">38</text>
<text transform="translate(333.66 865.08) rotate(336.43)" y="14.45">92</text>
<text transform="translate(321.93 908.78) rotate(332.31)" y="14.45">100</text>
<text transform="translate(306.98 942.69) rotate(329.77)" y="14.45">100</text>
<text transform="translate(285.46 901.8) rotate(334.84)" y="-8.6">100</text>
<text transform="translate(293.57 843.93) rotate(340.55)" y="-8.6">100</text>
<text transform="translate(260.2 837.32) rotate(342.45)" y="-8.6">100</text>
<text transform="translate(413.17 680.35) rotate(359.96)" y="-8.6">37</text>
<text transform="translate(326.4 720.37) rotate(354.67)" y="14.45">61</text>
<text transform="translate(299.89 747.26) rotate(351.65)" y="14.45">100</text>
<text transform="translate(273.79 770.34) rotate(349.43)" y="14.45">100</text>
<text transform="translate(248.21 792.72) rotate(347.53)" y="14.45">100</text>
<text transform="translate(236.31 701.23) rotate(357.68)" y="-8.6">100</text>
<text transform="translate(385.19 645.86) rotate(365.25)" y="-8.6">100</text>
<text transform="translate(359.07 616.84) rotate(369.02)" y="-8.6">99</text>
<text transform="translate(337.44 575.24) rotate(374.01)" y="-8.6">95</text>
<text transform="translate(272.52 596.94) rotate(369.73)" y="14.45">100</text>
<text transform="translate(240.75 609.07) rotate(367.83)" y="14.45">86</text>
<text transform="translate(318.41 534.9) rotate(378.29)" y="-8.6">100</text>
<text transform="translate(254.74 541.26) rotate(375.44)" y="14.45">100</text>
<text transform="translate(298.64 502.58) rotate(381.15)" y="-8.6">97</text>
<text transform="translate(277.62 475.89) rotate(383.05)" y="-8.6">100</text>
<text transform="translate(501.34 450.1) rotate(401.86)" y="-8.6">92</text>
<text transform="translate(401.42 434) rotate(394.63)" y="14.45">54</text>
<text transform="translate(366.5 433.28) rotate(392.25)" y="14.45">100</text>
<text transform="translate(331.63 433.86) rotate(390.03)" y="14.45">91</text>
<text transform="translate(297.61 434.25) rotate(388.13)" y="14.45">100</text>
<text transform="translate(513.08 397.32) rotate(409.1)" y="-8.6">100</text>
<text transform="translate(362.98 339.24) rotate(400.81)" y="14.45">100</text>
<text transform="translate(540.56 340.14) rotate(417.38)" y="-8.6">100</text>
<text transform="translate(493.69 337.02) rotate(412.39)" y="14.45">98</text>
<text transform="translate(460.65 325.7) rotate(410.01)" y="14.45">99</text>
<text transform="translate(427.27 315.65) rotate(407.79)" y="14.45">100</text>
<text transform="translate(394.75 305.66) rotate(405.89)" y="14.45">100</text>
<text transform="translate(543.66 270.25) rotate(422.38)" y="-8.6">100</text>
<text transform="translate(486.06 235.08) rotate(418.57)" y="14.45">100</text>
<text transform="translate(559.47 229.95) rotate(426.19)" y="-8.6">97</text>
<text transform="translate(526.58 212.77) rotate(423.65)" y="14.45">99</text>
<text transform="translate(568.92 194.13) rotate(428.72)" y="-8.6">100</text>
</g>
<g class="cl">
<text x="203" y="206.5">HAM</text>
<text x="1157" y="138.6">LISCL</text>
<text x="1413.3" y="558.7">AtSHR</text>
<text x="1224.3" y="1169.2">AtPAT1</text>
<text x="757.3" y="1371.4">AtSCL3</text>
<text x="571.8" y="1352.2">Os4</text>
<text x="467.3" y="1327.8">Os43</text>
<text x="284.8" y="1251.8">DELLA</text>
<text x="74.6" y="1008.6">AtLAS</text>
<text x="1.4" y="919.6">AtSCL4/7</text>
<text x="32.8" y="813.3">DLT</text>
<text x="18.9" y="710.2">Os19</text>
<text x="11.2" y="536.8">AtSCR</text>
</g>
<g>
<rect x="1262.5" y="9.85" width="87" height="6.9" fill="#129b52"/>
<text class="lg" x="1362.2" y="17.9" textLength="106.2" lengthAdjust="spacing">C. sinensis</text>
<rect x="1262.5" y="34.65" width="87" height="6.9" fill="#f73535"/>
<text class="lg" x="1363" y="43.3" textLength="107.5" lengthAdjust="spacing">A. thaliana</text>
<rect x="1262.5" y="62.75" width="87" height="6.9" fill="#1d1d8a"/>
<text class="lg" x="1364" y="70.5" textLength="87" lengthAdjust="spacing">O. sativa</text>
</g>
</svg></body></html>
